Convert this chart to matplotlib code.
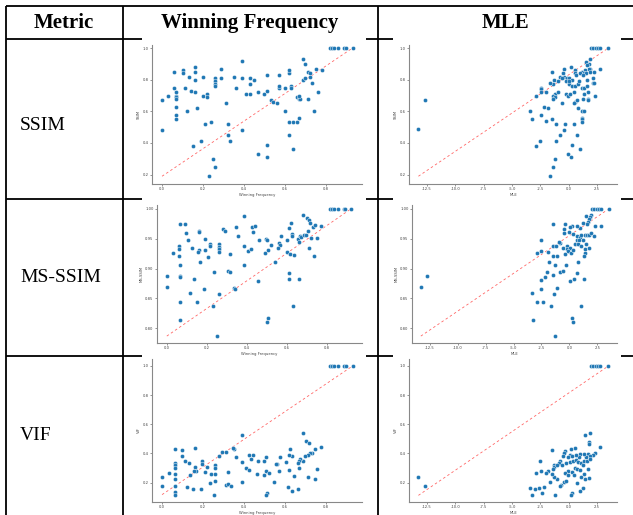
import matplotlib.pyplot as plt
from matplotlib.patches import Rectangle

# ---- data ----
top_wf = [0.82, 0.83, 0.84, 0.86, 0.89, 0.90, 0.93]
top_mle = [1.97, 2.15, 2.38, 2.62, 2.79, 3.50]

ssim_wf_x = top_wf + [
    0.69, 0.70, 0.39, 0.16, 0.06, 0.10, 0.16, 0.29, 0.10, 0.13, 0.20, 0.16, 0.26, 0.26,
    0.26, 0.26, 0.29, 0.35, 0.39, 0.43, 0.45, 0.51, 0.57, 0.62, 0.62, 0.06, 0.11, 0.14,
    0.16, 0.07, 0.03, 0.07, 0.07, 0.07, 0.00, 0.20, 0.22, 0.22, 0.31, 0.36, 0.41, 0.43,
    0.43, 0.47, 0.50, 0.51, 0.53, 0.54, 0.56, 0.57, 0.57, 0.60, 0.63, 0.63, 0.66, 0.67,
    0.675, 0.67, 0.71, 0.71, 0.72, 0.72, 0.69, 0.70, 0.73, 0.76, 0.74, 0.75, 0.78, 0.07,
    0.12, 0.17, 0.07, 0.07, 0.60, 0.00, 0.21, 0.24, 0.32, 0.32, 0.33, 0.39, 0.62, 0.64,
    0.66, 0.67, 0.62, 0.19, 0.15, 0.51, 0.64, 0.47, 0.51, 0.25, 0.26, 0.23]
ssim_wf_y = [1.0] * 7 + [
    0.93, 0.90, 0.92, 0.88, 0.85, 0.86, 0.85, 0.87, 0.84, 0.82, 0.82, 0.80, 0.81, 0.79,
    0.77, 0.76, 0.81, 0.82, 0.81, 0.81, 0.80, 0.83, 0.83, 0.84, 0.86, 0.75, 0.75, 0.73,
    0.72, 0.72, 0.70, 0.70, 0.69, 0.68, 0.67, 0.70, 0.71, 0.69, 0.65, 0.75, 0.71, 0.71,
    0.77, 0.72, 0.71, 0.73, 0.67, 0.66, 0.65, 0.75, 0.76, 0.75, 0.76, 0.75, 0.69, 0.68,
    0.68, 0.70, 0.68, 0.85, 0.84, 0.82, 0.80, 0.81, 0.78, 0.72, 0.60, 0.87, 0.86, 0.63,
    0.60, 0.62, 0.58, 0.55, 0.60, 0.48, 0.52, 0.53, 0.52, 0.45, 0.41, 0.48, 0.53, 0.53,
    0.53, 0.56, 0.45, 0.41, 0.38, 0.39, 0.36, 0.33, 0.31, 0.30, 0.25, 0.19]

ssim_mle_x = [-13.26, -12.71] + top_mle + [
    1.91, 1.56, 1.76, 1.62, 1.91, 1.76, 2.74, 1.44, 1.15, 0.56, 0.21, -0.41, 0.53, 1.03,
    1.32, 1.56, 1.85, 2.24, -0.50, -0.44, -0.79, -0.15, 0.03, 0.68, 1.24, 2.18, -1.44,
    -1.26, -1.38, -1.68, -0.91, -0.56, -0.26, 0.03, 0.26, 0.56, 0.85, 1.15, 1.38, 1.62,
    2.15, 2.26, 0.26, 0.03, 0.91, 1.62, -2.47, -2.47, -2.47, -2.88, -2.03, -1.24, -1.35,
    -1.21, -1.41, -0.91, -0.21, -0.06, 0.15, 0.44, 0.53, 0.47, 0.74, 1.26, 1.38, 1.74,
    1.74, 1.74, 2.29, -0.56, -2.21, -1.79, -3.41, -2.41, 0.85, 1.21, 1.38, -3.26, -1.44,
    -2.03, -1.15, -0.32, -0.38, 1.21, 1.21, 1.15, 0.44, -0.74, 0.74, -2.50, -1.15, -2.91,
    0.26, 1.03, -0.06, 0.24, -1.24, -1.41, -1.68]
ssim_mle_y = [0.49, 0.67] + [1.0] * 6 + [
    0.93, 0.91, 0.90, 0.89, 0.87, 0.87, 0.87, 0.86, 0.85, 0.86, 0.88, 0.87, 0.84, 0.84,
    0.84, 0.84, 0.85, 0.85, 0.84, 0.82, 0.82, 0.81, 0.81, 0.83, 0.83, 0.81, 0.85,
    0.80, 0.77, 0.78, 0.79, 0.81, 0.79, 0.77, 0.76, 0.76, 0.77, 0.75, 0.75, 0.76,
    0.78, 0.78, 0.80, 0.79, 0.79, 0.80, 0.75, 0.74, 0.72, 0.70, 0.72, 0.71, 0.70,
    0.69, 0.68, 0.72, 0.71, 0.70, 0.71, 0.72, 0.66, 0.65, 0.67, 0.68, 0.71, 0.72,
    0.68, 0.67, 0.70, 0.65, 0.63, 0.62, 0.60, 0.58, 0.62, 0.60, 0.60, 0.55, 0.55,
    0.54, 0.52, 0.52, 0.48, 0.56, 0.55, 0.53, 0.52, 0.45, 0.45, 0.41, 0.41, 0.38,
    0.39, 0.36, 0.33, 0.31, 0.30, 0.25, 0.19]

msssim_wf_x = [0.818, 0.828, 0.838, 0.854, 0.884, 0.890, 0.920] + [
    0.386, 0.679, 0.699, 0.709, 0.717, 0.732, 0.740, 0.769, 0.064, 0.093, 0.097, 0.159,
    0.159, 0.344, 0.282, 0.290, 0.424, 0.442, 0.430, 0.358, 0.108, 0.191, 0.128, 0.062,
    0.062, 0.029, 0.062, 0.159, 0.154, 0.191, 0.216, 0.216, 0.259, 0.259, 0.259, 0.259,
    0.208, 0.165, 0.318, 0.385, 0.404, 0.421, 0.462, 0.494, 0.501, 0.520, 0.491, 0.504,
    0.563, 0.568, 0.570, 0.556, 0.599, 0.602, 0.612, 0.620, 0.628, 0.625, 0.638, 0.658,
    0.663, 0.666, 0.671, 0.687, 0.694, 0.704, 0.710, 0.723, 0.736, 0.753, 0.615, 0.540,
    0.064, 0.000, 0.064, 0.064, 0.134, 0.234, 0.308, 0.318, 0.385, 0.458, 0.612, 0.612,
    0.660, 0.000, 0.187, 0.118, 0.259, 0.334, 0.340, 0.064, 0.149, 0.229, 0.633, 0.064,
    0.506, 0.501, 0.249]
msssim_wf_y = [1.0] * 7 + [
    0.9888, 0.9894, 0.9844, 0.9816, 0.9771, 0.9704, 0.9737, 0.9721, 0.9754, 0.9743,
    0.9598, 0.9637, 0.9609, 0.9693, 0.9659, 0.9637, 0.9693, 0.9721, 0.9615, 0.9547,
    0.9475, 0.9492, 0.9352, 0.9385, 0.9324, 0.9268, 0.9218, 0.9307, 0.9285, 0.9307,
    0.9413, 0.9385, 0.9413, 0.9369, 0.9330, 0.9285, 0.9201, 0.9117, 0.9246, 0.9380,
    0.9302, 0.9335, 0.9480, 0.9492, 0.9486, 0.9391, 0.9268, 0.9307, 0.9425, 0.9391,
    0.9547, 0.9341, 0.9486, 0.9285, 0.9676, 0.9771, 0.9581, 0.9547, 0.9223, 0.9497,
    0.9453, 0.9547, 0.9536, 0.9564, 0.9564, 0.9631, 0.9346, 0.9508, 0.9207, 0.9520,
    0.9240, 0.9106, 0.9056, 0.8883, 0.8883, 0.8855, 0.8821, 0.8944, 0.8961, 0.8939,
    0.9056, 0.8799, 0.8933, 0.8821, 0.8827, 0.8698, 0.8665, 0.8592, 0.8575, 0.8676,
    0.8654, 0.8441, 0.8436, 0.8363, 0.8374, 0.8140, 0.8168, 0.8106, 0.7866]

msssim_mle_x = [-13.30, -12.71, 2.02, 2.20, 2.44, 2.62, 2.80, 3.51] + [
    1.52, 1.96, 1.85, 1.79, 1.70, 2.83, 2.26, 1.55, 1.25, 0.95, 0.71, 0.21, -0.42, -1.43,
    -0.45, -0.45, -0.06, 0.06, 0.30, 0.65, 0.95, 1.07, 1.37, 1.55, 1.73, 1.90, 2.17,
    0.65, 0.89, 1.19, 0.48, 0.77, 1.07, 1.40, 1.43, 1.31, 1.79, 1.52, -0.83, -1.43,
    -1.19, -0.95, -0.60, -0.24, -0.18, 0.06, -0.12, -0.39, 0.15, 0.36, -2.50, -2.50,
    -2.92, -1.88, -1.43, -1.10, -1.79, 0.77, -1.25, -1.99, -2.17, -2.50, -1.43, -0.83,
    -0.54, -0.30, 0.71, 0.03, 0.45, 1.31, -1.13, -3.36, -2.53, -1.40, -2.92, -2.38,
    -1.67, 1.04, -3.30, 0.24, 0.30, -1.25]
msssim_mle_y = [0.8698, 0.8883] + [1.0] * 6 + [
    0.9883, 0.9899, 0.9860, 0.9827, 0.9788, 0.9721, 0.9715, 0.9743, 0.9771, 0.9676,
    0.9715, 0.9721, 0.9749, 0.9749, 0.9659, 0.9592, 0.9615, 0.9693, 0.9587, 0.9547,
    0.9536, 0.9570, 0.9559, 0.9559, 0.9570, 0.9592, 0.9553, 0.9480, 0.9486, 0.9480,
    0.9413, 0.9408, 0.9374, 0.9324, 0.9268, 0.9212, 0.9346, 0.9419, 0.9436, 0.9385,
    0.9385, 0.9453, 0.9352, 0.9385, 0.9324, 0.9346, 0.9296, 0.9246, 0.9268, 0.9313,
    0.9475, 0.9291, 0.9268, 0.9279, 0.9212, 0.9212, 0.9117, 0.9112, 0.9056, 0.8944,
    0.8866, 0.8816, 0.8888, 0.8939, 0.8961, 0.9056, 0.8933, 0.8799, 0.8821, 0.8821,
    0.8676, 0.8592, 0.8665, 0.8575, 0.8430, 0.8441, 0.8369, 0.8374, 0.8140, 0.8162,
    0.8106, 0.7866]

vif_wf_x = top_wf + [
    0.688, 0.704, 0.715, 0.390, 0.623, 0.776, 0.748, 0.732, 0.720, 0.714, 0.696, 0.688,
    0.675, 0.668, 0.663, 0.670, 0.636, 0.620, 0.607, 0.618, 0.642, 0.665, 0.636, 0.615,
    0.714, 0.745, 0.756, 0.576, 0.563, 0.569, 0.554, 0.545, 0.507, 0.496, 0.507, 0.520,
    0.498, 0.511, 0.507, 0.462, 0.467, 0.446, 0.426, 0.433, 0.411, 0.423, 0.389, 0.389,
    0.361, 0.351, 0.312, 0.293, 0.345, 0.276, 0.260, 0.260, 0.260, 0.260, 0.320, 0.312,
    0.320, 0.335, 0.233, 0.237, 0.252, 0.220, 0.211, 0.195, 0.195, 0.163, 0.163, 0.167,
    0.154, 0.138, 0.132, 0.111, 0.098, 0.098, 0.065, 0.065, 0.065, 0.065, 0.065, 0.065,
    0.065, 0.065, 0.065, 0.033, 0.000, 0.000, 0.122, 0.153, 0.190]
vif_wf_y = [1.0] * 7 + [
    0.537, 0.482, 0.470, 0.525, 0.433, 0.445, 0.431, 0.406, 0.404, 0.392, 0.383, 0.351,
    0.362, 0.346, 0.337, 0.303, 0.381, 0.392, 0.342, 0.289, 0.243, 0.158, 0.140, 0.167,
    0.236, 0.222, 0.291, 0.378, 0.330, 0.282, 0.330, 0.202, 0.374, 0.346, 0.278, 0.264,
    0.250, 0.131, 0.117, 0.261, 0.351, 0.392, 0.392, 0.360, 0.298, 0.284, 0.342, 0.202,
    0.372, 0.427, 0.413, 0.408, 0.440, 0.383, 0.323, 0.300, 0.261, 0.213, 0.273, 0.186,
    0.188, 0.177, 0.195, 0.261, 0.117, 0.310, 0.273, 0.351, 0.328, 0.438, 0.307, 0.278,
    0.278, 0.255, 0.337, 0.346, 0.422, 0.381, 0.427, 0.337, 0.323, 0.300, 0.257, 0.227,
    0.174, 0.135, 0.117, 0.266, 0.241, 0.179, 0.167, 0.154, 0.158]

vif_mle_x = [-13.26, -12.71] + top_mle + [
    1.47, 1.91, 1.76, 1.79, 2.79, 2.29, 2.15, 1.74, 1.85, 1.56, 1.32, 1.03, 0.91, 0.68,
    0.56, 0.18, -0.35, -0.38, 0.12, 0.29, -0.03, -0.50, -1.44, -0.79, -0.88, -1.32,
    -1.26, -1.38, -1.06, -0.56, -0.21, 0.09, 0.38, 0.62, 0.85, 1.09, 1.32, 1.62, 1.85,
    1.74, 1.26, 0.53, 0.74, -0.03, -0.29, 0.32, 0.97, 1.32, -0.06, 0.47, 0.74, 1.79,
    1.09, 1.41, 1.26, 1.03, 0.26, 0.24, -0.65, -0.79, -0.41, -0.21, -1.03, -1.26, -1.44,
    -1.62, -1.82, -2.03, -2.47, -2.50, -2.85, -1.24, -2.35, -2.21, -2.62, -2.97, -3.38,
    -3.26]
vif_mle_y = [0.241, 0.179] + [1.0] * 6 + [
    0.525, 0.537, 0.479, 0.466, 0.445, 0.406, 0.392, 0.399, 0.383, 0.376, 0.397, 0.394,
    0.378, 0.388, 0.438, 0.433, 0.415, 0.406, 0.392, 0.381, 0.376, 0.383, 0.424, 0.346,
    0.335, 0.319, 0.307, 0.296, 0.323, 0.319, 0.337, 0.342, 0.346, 0.353, 0.342, 0.337,
    0.346, 0.351, 0.365, 0.296, 0.323, 0.303, 0.296, 0.278, 0.266, 0.273, 0.284, 0.261,
    0.250, 0.250, 0.200, 0.232, 0.241, 0.222, 0.163, 0.140, 0.131, 0.117, 0.186, 0.177,
    0.204, 0.209, 0.222, 0.241, 0.261, 0.204, 0.278, 0.268, 0.278, 0.346, 0.266, 0.117,
    0.131, 0.170, 0.163, 0.154, 0.165, 0.112]

metrics = ["SSIM", "MS-SSIM", "VIF"]
headers = ["Metric", "Winning Frequency", "MLE"]
wf_ticks = [0.0, 0.2, 0.4, 0.6, 0.8]
mle_ticks = [-12.5, -10.0, -7.5, -5.0, -2.5, 0.0, 2.5]
y_ticks = {
    "SSIM": [0.2, 0.4, 0.6, 0.8, 1.0],
    "MS-SSIM": [0.80, 0.85, 0.90, 0.95, 1.00],
    "VIF": [0.2, 0.4, 0.6, 0.8, 1.0],
}
y_fmt = {"SSIM": "{:.1f}", "MS-SSIM": "{:.2f}", "VIF": "{:.1f}"}
y_lims = {"SSIM": (0.141, 1.019), "MS-SSIM": (0.775, 1.0067), "VIF": (0.0665, 1.048)}

panels = {
    ("SSIM", "wf"): (ssim_wf_x, ssim_wf_y),
    ("SSIM", "mle"): (ssim_mle_x, ssim_mle_y),
    ("MS-SSIM", "wf"): (msssim_wf_x, msssim_wf_y),
    ("MS-SSIM", "mle"): (msssim_mle_x, msssim_mle_y),
    ("VIF", "wf"): (vif_wf_x, vif_wf_y),
    ("VIF", "mle"): (vif_mle_x, vif_mle_y),
}

W, H = 633, 515
fig = plt.figure(figsize=(W / 100, H / 100), dpi=100)

# table grid drawn in pixel coordinates
grid = fig.add_axes([0, 0, 1, 1])
grid.set_xlim(0, W)
grid.set_ylim(H, 0)
grid.axis("off")
lw = 1.3
for y in [6, 39, 199, 356]:
    grid.plot([6, W], [y, y], color="black", lw=lw, zorder=1, solid_capstyle="butt")
for x in [6, 123, 378]:
    grid.plot([x, x], [6, H], color="black", lw=lw, zorder=1, solid_capstyle="butt")

# the embedded chart images have a white background that hides parts of the lines
row_spans = [(32, 198), (196, 352), (354, H)]
col_spans = [(142, 366), (393, 621)]
for (t, b) in row_spans:
    for (l, r) in col_spans:
        grid.add_patch(Rectangle((l, t), r - l, b - t, facecolor="white",
                                 edgecolor="none", zorder=2))

serif = ["Liberation Serif", "DejaVu Serif"]
grid.text(64, 23, headers[0], ha="center", va="center", fontsize=15,
          fontweight="bold", family=serif, zorder=3)
grid.text(250, 23, headers[1], ha="center", va="center", fontsize=15,
          fontweight="bold", family=serif, zorder=3)
grid.text(505, 23, headers[2], ha="center", va="center", fontsize=15,
          fontweight="bold", family=serif, zorder=3)
for name, yc in zip(metrics, [125, 278, 435]):
    grid.text(20, yc, name, ha="left", va="center", fontsize=14, family=serif, zorder=3)


def px_axes(left, top, right, bottom):
    return fig.add_axes([left / W, 1 - bottom / H, (right - left) / W, (bottom - top) / H])


boxes = {
    ("SSIM", "wf"): (152, 45, 362, 184),
    ("SSIM", "mle"): (409, 45, 617, 184),
    ("MS-SSIM", "wf"): (157, 205, 362, 343),
    ("MS-SSIM", "mle"): (412, 205, 617, 343),
    ("VIF", "wf"): (152, 359, 362, 502),
    ("VIF", "mle"): (409, 359, 617, 502),
}
x_lims = {"wf": (-0.049, 0.976), "mle": (-14.09, 4.26)}
x_labels = {"wf": "Winning Frequency", "mle": "MLE"}

small = 2.7
for (metric, col), (xs, ys) in panels.items():
    ax = px_axes(*boxes[(metric, col)])
    ax.set_facecolor("white")
    ax.scatter(xs, ys, s=9, c="#1f77b4", edgecolors="white", linewidths=0.3, zorder=3)
    ax.plot([min(xs), max(xs)], [min(ys), max(ys)], color="red", lw=0.6,
            alpha=0.6, dashes=(3, 3), zorder=2)
    ax.set_xlim(*x_lims[col])
    ax.set_ylim(*y_lims[metric])
    ax.set_xticks(wf_ticks if col == "wf" else mle_ticks)
    ax.set_xticklabels(["{:.1f}".format(t) for t in (wf_ticks if col == "wf" else mle_ticks)])
    ax.set_yticks(y_ticks[metric])
    ax.set_yticklabels([y_fmt[metric].format(t) for t in y_ticks[metric]])
    ax.tick_params(labelsize=small, length=1.5, width=0.4, pad=1, colors="#444")
    for side in ["top", "right"]:
        ax.spines[side].set_visible(False)
    for side in ["left", "bottom"]:
        ax.spines[side].set_color("#888")
        ax.spines[side].set_linewidth(0.8)
    ax.set_xlabel(x_labels[col], fontsize=small, labelpad=1, color="#444")
    ax.set_ylabel(metric, fontsize=small, labelpad=1, color="#444")

fig.savefig("out.png", dpi=100)
